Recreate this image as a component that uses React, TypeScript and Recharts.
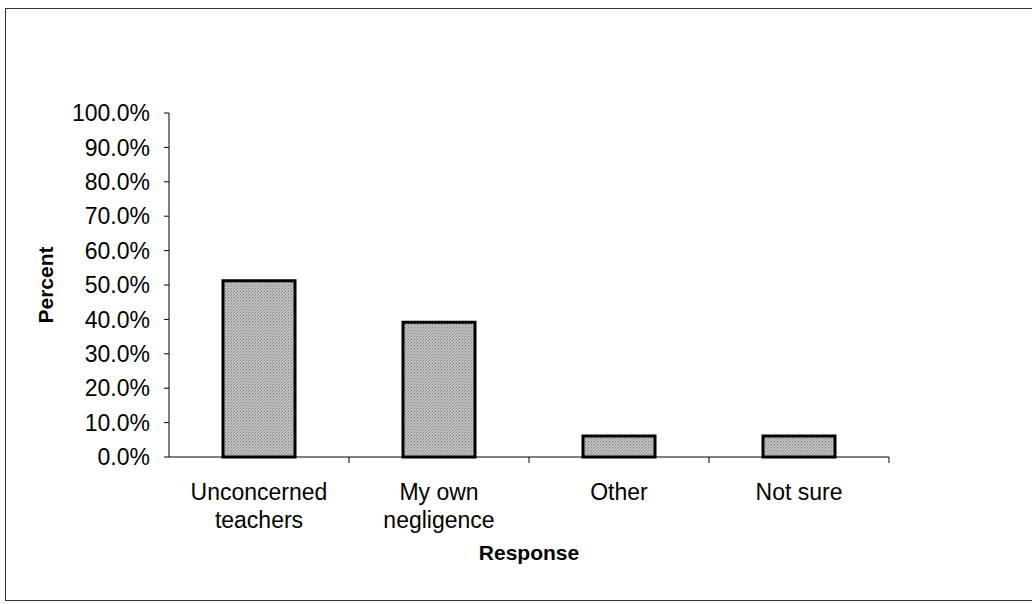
import { BarChart, Bar, XAxis, YAxis, Label } from 'recharts';

const categories = ['Unconcerned teachers', 'My own negligence', 'Other', 'Not sure'];
const categoryLines = [['Unconcerned', 'teachers'], ['My own', 'negligence'], ['Other'], ['Not sure']];
const percents = [51.2, 39.2, 6.1, 6.1];
const yTicks = [0, 10, 20, 30, 40, 50, 60, 70, 80, 90, 100];

const chartData = categories.map((name, i) => ({ name, value: percents[i] }));

const W = 1032;
const H = 604;
const YAXIS_W = 169;
const RIGHT = 143;
const STEP = (W - YAXIS_W - RIGHT) / categories.length;
const FONT = '"Liberation Sans", Arial, sans-serif';

// two-line category labels plus the small divider tick to the right of each category
const CategoryTick = (props: any) => {
    const { x, y, payload } = props;
    const idx = categories.indexOf(payload.value);
    const lines = categoryLines[idx] || [payload.value];
    return (
        <g>
            <line x1={x + STEP / 2} x2={x + STEP / 2} y1={y} y2={y + 6} stroke="#000" strokeWidth={1} />
            {lines.map((ln, i) => (
                <text key={i} x={x} y={y + 35 + i * 28} dy="0.355em" textAnchor="middle" fill="#000" fontSize={23} fontFamily={FONT}>
                    {ln}
                </text>
            ))}
        </g>
    );
};

export default function App() {
    return (
        <div style={{ position: 'absolute', left: 0, top: 0, width: W, height: H, overflow: 'hidden', background: '#fff' }}>
            <div style={{ position: 'absolute', left: 5, top: 8, width: 1040, height: 593, border: '1px solid #333', boxSizing: 'border-box' }} />
            <div style={{ position: 'absolute', left: 0, top: 0 }}>
                <BarChart width={W} height={H} data={chartData} margin={{ top: 113, right: RIGHT, bottom: 0, left: 0 }}>
                    <defs>
                        <pattern id="stipple" width="3" height="3" patternUnits="userSpaceOnUse">
                            <rect width="3" height="3" fill="#c2c2c2" />
                            <rect x="0" y="0" width="1" height="1" fill="#7c7c7c" />
                            <rect x="2" y="1" width="1" height="1" fill="#949494" />
                            <rect x="1" y="2" width="1" height="1" fill="#a8a8a8" />
                        </pattern>
                    </defs>
                    <XAxis
                        dataKey="name"
                        height={147}
                        interval={0}
                        tickLine={false}
                        tickSize={0}
                        tickMargin={0}
                        axisLine={{ stroke: '#000', strokeWidth: 1 }}
                        tick={<CategoryTick />}
                    >
                        <Label value="Response" position="insideBottom" offset={44} fill="#000" fontSize={21} fontWeight="bold" fontFamily={FONT} />
                    </XAxis>
                    <YAxis
                        width={YAXIS_W}
                        domain={[0, 100]}
                        ticks={yTicks}
                        interval={0}
                        tickSize={5}
                        tickMargin={14}
                        tickFormatter={(v: number) => `${v.toFixed(1)}%`}
                        axisLine={{ stroke: '#000', strokeWidth: 1 }}
                        tickLine={{ stroke: '#000', strokeWidth: 1 }}
                        tick={{ fill: '#000', fontSize: 23, fontFamily: FONT }}
                    >
                        <Label value="Percent" angle={-90} position="insideLeft" offset={46} fill="#000" fontSize={21} fontWeight="bold" fontFamily={FONT} style={{ textAnchor: 'middle' }} />
                    </YAxis>
                    <Bar dataKey="value" fill="url(#stipple)" stroke="#000" strokeWidth={3} barSize={72} isAnimationActive={false} />
                </BarChart>
            </div>
        </div>
    );
}
